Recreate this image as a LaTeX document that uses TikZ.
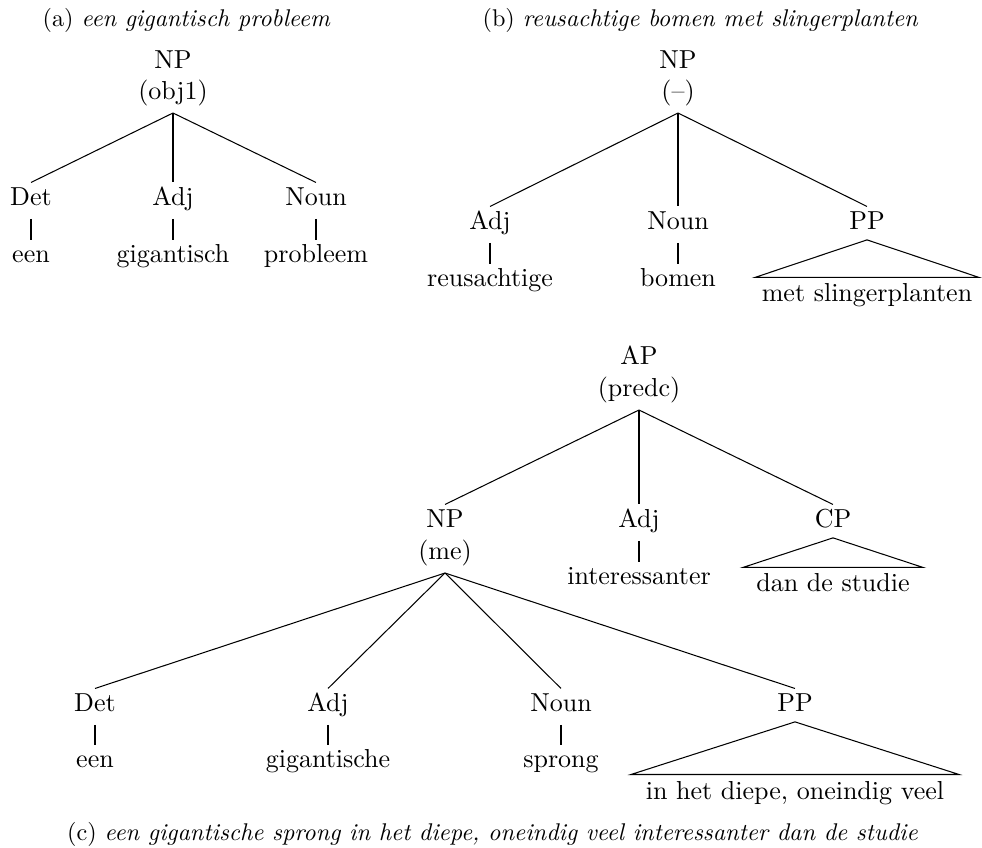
\documentclass[tikz,border=0pt]{standalone}
\usepackage{graphicx}
\tikzset{
  cat/.style={anchor=base, inner sep=0pt, text height=8.85pt, text depth=4.8pt},
  fn/.style={anchor=base, inner sep=0pt, text height=7pt, text depth=4.8pt},
  catroof/.style={anchor=base, inner sep=0pt, text height=8.85pt, text depth=3.6pt},
  word/.style={anchor=base, inner sep=0pt, text height=8.46pt, text depth=0pt},
  roofw/.style={anchor=base, inner ysep=0pt, inner xsep=5pt, text height=9.23pt, text depth=0pt},
  captext/.style={anchor=base, inner sep=0pt},
  branch/.style={line width=0.4pt, line cap=butt},
  roof/.style={line width=0.4pt, line join=miter}
}
\newcommand{\capt}[1]{\scalebox{0.93}{#1}}
\begin{document}
\begin{tikzpicture}[x=0.38462pt, y=-0.38462pt]
\useasboundingbox (0,0) rectangle (982,848);

% captions
\node[captext] (capA) at (186.5,27) {\capt{(a) \textit{een gigantisch probleem}}};
\node[captext] (capB) at (700.5,27) {\capt{(b) \textit{reusachtige bomen met slingerplanten}}};
\node[captext] (capC) at (492.5,840) {\capt{(c) \textit{een gigantische sprong in het diepe, oneindig veel interessanter dan de studie}}};

% tree (a)
\node[cat] (aNP) at (173,69) {NP};
\node[fn] (aNPf) at (173,100) {(obj1)};
\node[cat] (aDet) at (31,206) {Det};
\node[cat] (aAdj) at (173,206) {Adj};
\node[cat] (aNoun) at (316,206) {Noun};
\node[word] (aW1) at (31,263) {een};
\node[word] (aW2) at (173,263) {gigantisch};
\node[word] (aW3) at (316,263) {probleem};
\draw[branch] (aNPf.south) -- (aDet.north);
\draw[branch] (aNPf.south) -- (aAdj.north);
\draw[branch] (aNPf.south) -- (aNoun.north);
\draw[branch] (aDet.south) -- (aW1.north);
\draw[branch] (aAdj.south) -- (aW2.north);
\draw[branch] (aNoun.south) -- (aW3.north);

% tree (b)
\node[cat] (bNP) at (678,69) {NP};
\node[fn] (bNPf) at (678,100) {(--)};
\node[cat] (bAdj) at (490,230) {Adj};
\node[cat] (bNoun) at (678,230) {Noun};
\node[catroof] (bPP) at (867,230) {PP};
\node[word] (bW1) at (490,287) {reusachtige};
\node[word] (bW2) at (678,287) {bomen};
\node[roofw, inner xsep=2.5pt] (bW3) at (867,302) {met slingerplanten};
\draw[branch] (bNPf.south) -- (bAdj.north);
\draw[branch] (bNPf.south) -- (bNoun.north);
\draw[branch] (bNPf.south) -- (bPP.north);
\draw[branch] (bAdj.south) -- (bW1.north);
\draw[branch] (bNoun.south) -- (bW2.north);
\draw[roof] (bPP.south) -- (bW3.north west) -- (bW3.north east) -- cycle;

% tree (c)
\node[cat] (cAP) at (639,365) {AP};
\node[fn] (cAPf) at (639,397) {(predc)};
\node[cat] (cNP) at (445,528) {NP};
\node[fn] (cNPf) at (445,560) {(me)};
\node[cat] (cAdj) at (639,528) {Adj};
\node[catroof] (cCP) at (833,528) {CP};
\node[word] (cAdjW) at (639,585) {interessanter};
\node[roofw] (cCPW) at (833,592) {dan de studie};
\draw[branch] (cAPf.south) -- (cNP.north);
\draw[branch] (cAPf.south) -- (cAdj.north);
\draw[branch] (cAPf.south) -- (cCP.north);
\draw[branch] (cAdj.south) -- (cAdjW.north);
\draw[roof] (cCP.south) -- (cCPW.north west) -- (cCPW.north east) -- cycle;

\node[cat] (cDet) at (95,712) {Det};
\node[cat] (cAdjB) at (328,712) {Adj};
\node[cat] (cNoun) at (561,712) {Noun};
\node[catroof] (cPP) at (795,712) {PP};
\node[word] (cW1) at (95,768) {een};
\node[word] (cW2) at (328,768) {gigantische};
\node[word] (cW3) at (561,768) {sprong};
\node[roofw, inner xsep=5.5pt] (cW4) at (795,799) {in het diepe, oneindig veel};
\draw[branch] (cNPf.south) -- (cDet.north);
\draw[branch] (cNPf.south) -- (cAdjB.north);
\draw[branch] (cNPf.south) -- (cNoun.north);
\draw[branch] (cNPf.south) -- (cPP.north);
\draw[branch] (cDet.south) -- (cW1.north);
\draw[branch] (cAdjB.south) -- (cW2.north);
\draw[branch] (cNoun.south) -- (cW3.north);
\draw[roof] (cPP.south) -- (cW4.north west) -- (cW4.north east) -- cycle;
\end{tikzpicture}
\end{document}
